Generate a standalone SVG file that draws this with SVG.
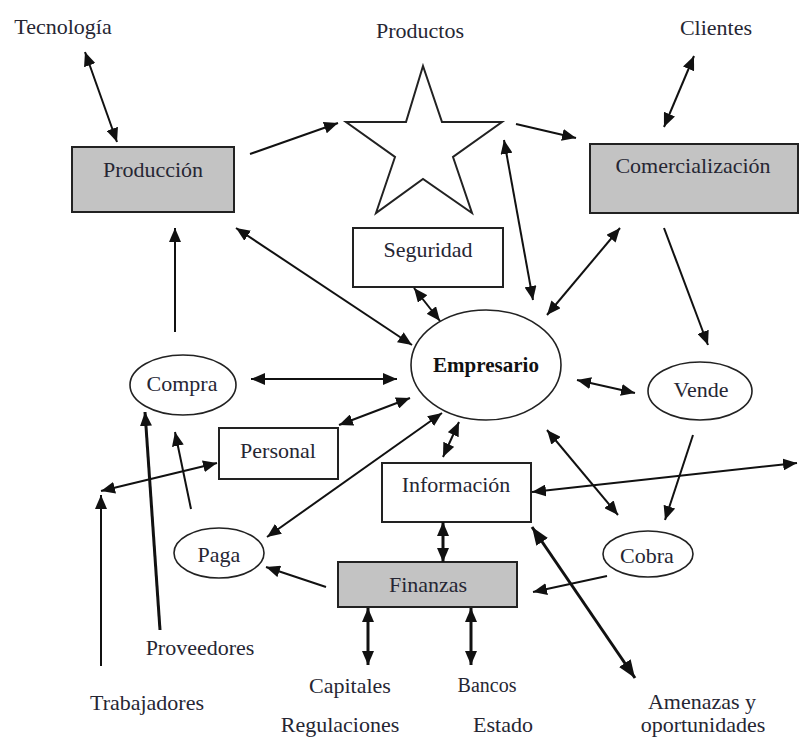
<svg xmlns="http://www.w3.org/2000/svg" width="800" height="740" viewBox="0 0 800 740">
  <style>
    .lbl { font-family: "Liberation Serif", "DejaVu Serif", serif; font-size: 22px; fill: #262633; text-anchor: middle; }
    .bold { font-weight: bold; fill: #111; font-size: 21px; }
    .box { fill: #ffffff; stroke: #222; stroke-width: 2; }
    .gray { fill: #c3c3c3; stroke: #222; stroke-width: 2; }
    .oval { fill: #ffffff; stroke: #222; stroke-width: 1.6; }
    .ln { stroke: #111; stroke-width: 2; fill: none; }
    .thick { stroke: #111; stroke-width: 3; fill: none; }
  </style>
  <defs>
    <marker id="ah" viewBox="0 0 14 12" refX="14" refY="6" markerWidth="14" markerHeight="12" markerUnits="userSpaceOnUse" orient="auto-start-reverse">
      <path d="M0,0 L14,6 L0,12 z" fill="#111"/>
    </marker>
    <marker id="ahL" viewBox="0 0 18 14" refX="18" refY="7" markerWidth="18" markerHeight="14" markerUnits="userSpaceOnUse" orient="auto-start-reverse">
      <path d="M0,0 L18,7 L0,14 z" fill="#111"/>
    </marker>
  </defs>

  <rect width="800" height="740" fill="#ffffff"/>

  <!-- free labels -->
  <g id="labels">
    <text class="lbl" x="63" y="34">Tecnología</text>
    <text class="lbl" x="420" y="38">Productos</text>
    <text class="lbl" x="716" y="35">Clientes</text>
    <text class="lbl" x="200" y="655">Proveedores</text>
    <text class="lbl" x="147" y="710">Trabajadores</text>
    <text class="lbl" x="350" y="693">Capitales</text>
    <text class="lbl" x="340" y="732">Regulaciones</text>
    <text class="lbl" x="487" y="692" style="font-size:20px">Bancos</text>
    <text class="lbl" x="503" y="732">Estado</text>
    <text class="lbl" x="702" y="709">Amenazas y</text>
    <text class="lbl" x="703" y="732">oportunidades</text>
  </g>

  <!-- nodes -->
  <g id="produccion">
    <rect class="gray" x="72" y="147" width="162" height="65"/>
    <text class="lbl" x="153" y="177">Producción</text>
  </g>
  <g id="productos">
    <polygon points="423,66 442,122 502,122 453,157 472,213 423,179 376,213 395,157 346,122 406,122" fill="#ffffff" stroke="#222" stroke-width="2" stroke-linejoin="miter"/>
  </g>
  <g id="comercializacion">
    <rect class="gray" x="590" y="144" width="208" height="69"/>
    <text class="lbl" x="693" y="173">Comercialización</text>
  </g>
  <g id="seguridad">
    <rect class="box" x="353" y="228" width="150" height="59"/>
    <text class="lbl" x="428" y="257">Seguridad</text>
  </g>
  <g id="empresario">
    <ellipse class="oval" cx="486" cy="365" rx="75" ry="55"/>
    <text class="lbl bold" x="486" y="372">Empresario</text>
  </g>
  <g id="compra">
    <ellipse class="oval" cx="183" cy="385" rx="53" ry="30"/>
    <text class="lbl" x="182" y="391">Compra</text>
  </g>
  <g id="personal">
    <rect class="box" x="219" y="428" width="119" height="51"/>
    <text class="lbl" x="278" y="458">Personal</text>
  </g>
  <g id="vende">
    <ellipse class="oval" cx="700" cy="391" rx="52" ry="29"/>
    <text class="lbl" x="701" y="397">Vende</text>
  </g>
  <g id="informacion">
    <rect class="box" x="382" y="463" width="149" height="59"/>
    <text class="lbl" x="456" y="492">Información</text>
  </g>
  <g id="paga">
    <ellipse class="oval" cx="219" cy="553" rx="45" ry="25"/>
    <text class="lbl" x="219" y="562">Paga</text>
  </g>
  <g id="cobra">
    <ellipse class="oval" cx="648" cy="554" rx="45" ry="23"/>
    <text class="lbl" x="647" y="563">Cobra</text>
  </g>
  <g id="finanzas">
    <rect class="gray" x="338" y="562" width="179" height="45"/>
    <text class="lbl" x="428" y="592">Finanzas</text>
  </g>

  <!-- connectors -->
  <g id="connectors">
    <line class="ln" x1="85" y1="52" x2="117" y2="142" marker-start="url(#ah)" marker-end="url(#ah)"/>
    <line class="ln" x1="250" y1="154" x2="338" y2="123" marker-end="url(#ah)"/>
    <line class="ln" x1="516" y1="124" x2="576" y2="138" marker-end="url(#ah)"/>
    <line class="ln" x1="694" y1="56" x2="664" y2="127" marker-start="url(#ah)" marker-end="url(#ah)"/>
    <line class="ln" x1="504" y1="140" x2="533" y2="300" marker-start="url(#ah)" marker-end="url(#ah)"/>
    <line class="ln" x1="620" y1="228" x2="547" y2="315" marker-start="url(#ah)" marker-end="url(#ah)"/>
    <line class="ln" x1="664" y1="228" x2="708" y2="345" marker-end="url(#ah)"/>
    <line class="ln" x1="414" y1="288" x2="440" y2="321" marker-start="url(#ah)" marker-end="url(#ah)"/>
    <line class="ln" x1="236" y1="228" x2="412" y2="345" marker-start="url(#ah)" marker-end="url(#ah)"/>
    <line class="ln" x1="175" y1="332" x2="175" y2="228" marker-end="url(#ah)"/>
    <line class="ln" x1="251" y1="379" x2="397" y2="379" marker-start="url(#ah)" marker-end="url(#ah)"/>
    <line class="ln" x1="339" y1="425" x2="410" y2="398" marker-start="url(#ah)" marker-end="url(#ah)"/>
    <line class="ln" x1="217" y1="463" x2="101" y2="491" marker-start="url(#ah)" marker-end="url(#ah)"/>
    <line class="ln" x1="101" y1="666" x2="101" y2="495" marker-end="url(#ah)"/>
    <line class="thick" x1="160" y1="630" x2="145" y2="412" marker-end="url(#ah)"/>
    <line class="ln" x1="191" y1="509" x2="175" y2="432" marker-end="url(#ah)"/>
    <line class="ln" x1="442" y1="413" x2="267" y2="537" marker-start="url(#ah)" marker-end="url(#ah)"/>
    <line class="ln" x1="326" y1="587" x2="266" y2="567" marker-end="url(#ah)"/>
    <line class="ln" x1="443" y1="457" x2="459" y2="422" marker-start="url(#ah)" marker-end="url(#ah)"/>
    <line class="thick" x1="443" y1="522" x2="443" y2="562" marker-start="url(#ah)" marker-end="url(#ah)"/>
    <line class="ln" x1="532" y1="492" x2="797" y2="463" marker-start="url(#ah)" marker-end="url(#ah)"/>
    <line class="ln" x1="547" y1="430" x2="618" y2="515" marker-start="url(#ah)" marker-end="url(#ah)"/>
    <line class="ln" x1="577" y1="380" x2="635" y2="393" marker-start="url(#ah)" marker-end="url(#ah)"/>
    <line class="ln" x1="693" y1="435" x2="665" y2="520" marker-end="url(#ah)"/>
    <line class="ln" x1="607" y1="576" x2="533" y2="592" marker-end="url(#ah)"/>
    <line class="thick" x1="532" y1="527" x2="635" y2="678" marker-start="url(#ahL)" marker-end="url(#ahL)"/>
    <line class="thick" x1="368" y1="608" x2="368" y2="665" marker-start="url(#ah)" marker-end="url(#ah)"/>
    <line class="thick" x1="471" y1="608" x2="471" y2="665" marker-start="url(#ah)" marker-end="url(#ah)"/>
  </g>
</svg>
